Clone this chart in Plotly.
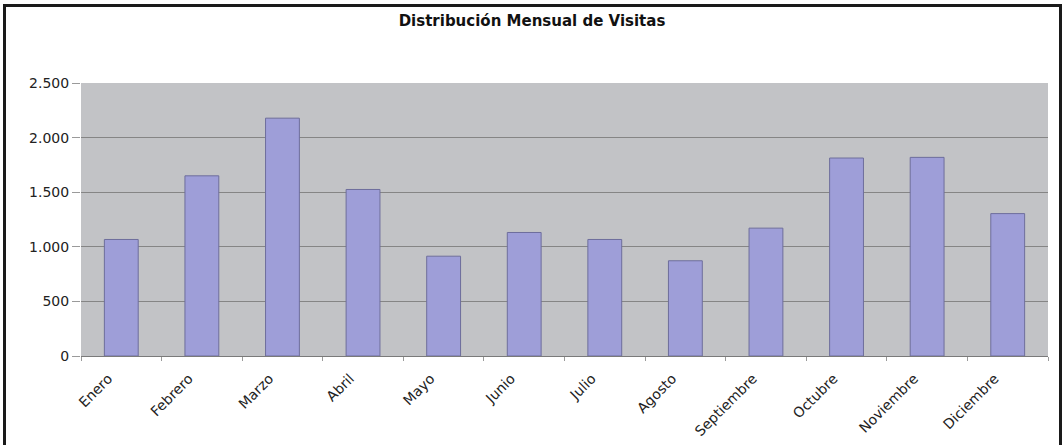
import plotly.graph_objects as go

# Data
months = ["Enero", "Febrero", "Marzo", "Abril", "Mayo", "Junio", "Julio",
          "Agosto", "Septiembre", "Octubre", "Noviembre", "Diciembre"]
visits = [1067, 1650, 2178, 1525, 914, 1131, 1067, 872, 1171, 1813, 1819, 1304]
y_ticks = [0, 500, 1000, 1500, 2000, 2500]
title_text = "Distribución Mensual de Visitas"

W, H = 1064, 445
ML, MR, MT, MB = 81, 16, 83, 89
pw = W - ML - MR
ph = H - MT - MB

def px_x(x):
    return (x - ML) / pw

def px_y(y):
    return (H - MB - y) / ph

fig = go.Figure()
fig.add_trace(go.Bar(
    x=months, y=visits,
    marker=dict(color="#9e9ed8", line=dict(color="#6e6e9c", width=1)),
    hoverinfo="x+y",
))

fig.update_layout(
    width=W, height=H,
    margin=dict(l=ML, r=MR, t=MT, b=MB, pad=0, autoexpand=False),
    paper_bgcolor="white",
    plot_bgcolor="#c2c3c6",
    separators=",.",
    bargap=0.58,
    showlegend=False,
    font=dict(family="DejaVu Sans", size=14, color="#222222"),
    title=dict(text="<b>" + title_text + "</b>", x=0.5, xanchor="center",
               y=1 - 21 / H, yanchor="middle", yref="container",
               font=dict(family="DejaVu Sans", size=15, color="#111111")),
    xaxis=dict(
        tickangle=-45, ticks="outside", tickson="boundaries", ticklen=4,
        tickcolor="#9a9a9a", showline=True, linecolor="#7a7a7a", linewidth=1,
        showgrid=False, tickfont=dict(size=14, color="#222222"),
        ticklabelshift=-13, ticklabelstandoff=8, automargin=False,
    ),
    yaxis=dict(
        range=[0, 2500], tickvals=y_ticks, tickformat=",d",
        ticks="outside", ticklen=8, tickcolor="#9a9a9a",
        showgrid=True, gridcolor="#858585", gridwidth=1,
        zeroline=False, showline=False, automargin=False,
        tickfont=dict(size=14, color="#222222"),
    ),
    shapes=[dict(
        type="rect", xref="paper", yref="paper",
        x0=px_x(4.5), x1=px_x(1060.5), y0=px_y(H + 20), y1=px_y(5.5),
        line=dict(color="#1a1a1a", width=3), fillcolor="rgba(0,0,0,0)",
        layer="above",
    )],
)

fig.write_html(
    "out.html",
    config={"displayModeBar": False},
    post_script="document.body.style.margin='0';document.body.style.overflow='hidden';",
)
